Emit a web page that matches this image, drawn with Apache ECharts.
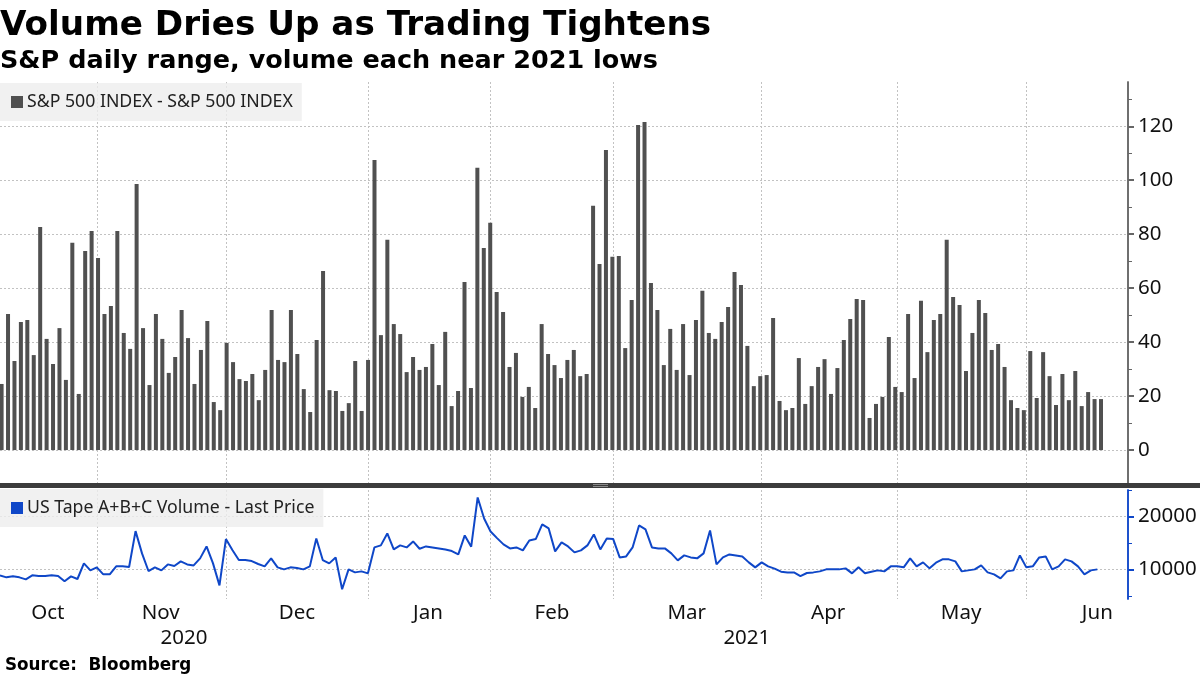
<!DOCTYPE html>
<html>
<head>
<meta charset="utf-8">
<script src="https://cdn.jsdelivr.net/npm/echarts@6/dist/echarts.min.js"></script>
<style>html,body{margin:0;padding:0;background:#fff}#main{width:1200px;height:675px}</style>
</head>
<body>
<div id="main"></div>
<script>
var range_values = [24.5,50.4,33,47.5,48.2,35.2,82.7,41.2,31.9,45.2,26,76.8,20.8,73.8,81.2,71.2,50.4,53.4,81.2,43.4,37.5,98.6,45.2,24.1,50.4,41.2,28.6,34.5,51.9,41.5,24.5,37.1,47.8,17.8,14.8,39.7,32.6,26.3,25.6,28.2,18.5,29.7,51.9,33.4,32.6,51.9,35.6,22.6,14.1,40.8,66.4,22.2,21.9,14.5,17.4,33,14.5,33.4,107.5,42.6,77.9,46.7,43,28.9,34.5,29.7,30.8,39.3,24.1,43.8,16.3,21.9,62.3,23,104.6,74.9,84.2,58.6,51.2,30.8,36,19.7,23.4,15.6,46.7,35.6,31.5,26.7,33.4,37.1,27.4,28.2,90.5,69,111.2,71.6,71.9,37.8,55.6,120.5,121.6,61.9,51.9,31.5,44.9,29.7,46.7,27.8,48.2,59,43.4,41.2,47.5,53,66,61.2,38.6,23.7,27.4,27.8,48.9,18.2,14.8,15.6,34.1,17.1,23.7,30.8,33.7,20.8,30.4,40.8,48.6,56,55.6,11.9,17.1,19.7,41.9,23.4,21.5,50.4,26.7,55.3,36.3,48.2,50.4,77.9,56.7,53.8,29.3,43.4,55.6,50.8,37.1,39.3,30.8,18.5,15.6,14.8,36.7,19.3,36.3,27.4,16.7,28.2,18.5,29.3,16.3,21.5,18.9,18.9];

var volume_values = [8870,8490,8680,8490,8110,8870,8740,8740,8870,8740,7740,8680,8180,11130,9810,10380,9060,9060,10570,10570,10440,17230,13020,9690,10380,9810,10940,10630,11510,10940,10750,12080,14340,11130,6980,15720,13650,11760,11760,11570,11010,10570,12080,10380,10000,10380,10250,10000,10570,15850,11760,11130,12260,6230,10000,9430,9620,9250,14150,14530,16790,13770,14530,14150,15280,13900,14340,14150,13960,13770,13460,12830,16420,14280,23590,19620,17170,15910,14720,13960,14150,13590,15470,15720,18490,17740,13400,15090,14340,13210,13590,14530,16600,13770,15850,15720,12260,12450,14150,18300,17550,14150,13960,13960,13020,11700,12640,12260,12080,13020,17360,10940,12260,12830,12640,12450,11320,10380,11320,10570,10130,9560,9430,9430,8740,9310,9430,9620,10000,10000,10000,10190,9250,10380,9250,9560,9810,9620,10570,10570,10380,12080,10570,11320,10190,11260,11890,11890,11510,9620,9810,10000,10750,9430,9060,8300,9620,9810,12640,10380,10570,12260,12450,10000,10570,11890,11510,10570,9060,9810,10000];

// first session of each month, counted in each panel's own sessions
var range_month_starts = [14.91,34.98,57.06,76.03,95.17,118.2,139.33,159.4];
var volume_month_starts = [15,35,57,76,95,118,139,159];

var month_names = ['Oct','Nov','Dec','Jan','Feb','Mar','Apr','May','Jun'];
var month_label_at = [7.4,24.9,46,66.3,85.5,106.4,128.3,148.9,170];
var year_names = ['2020','2021'];
var year_label_at = [28.5,115.7];

var range_ticks = [0,20,40,60,80,100,120];
var range_minor_ticks = [10,30,50,70,90,110,130];
var volume_ticks = [10000,20000];
var volume_minor_ticks = [5000,15000,25000];

var range_name = 'S&P 500 INDEX - S&P 500 INDEX';
var volume_name = 'US Tape A+B+C Volume - Last Price';

var head_font = 'DejaVu Sans';
var font = 'Noto Sans';
var grid_line = { show: true, lineStyle: { color: '#c2c2c2', type: [2, 2], width: 1 } };
var bar_color = '#505050';
var line_color = '#0f47c8';

function lookup(names, positions) {
	return function (val) {
		return names[positions.indexOf(val)] || '';
	};
}

function yAxis(grid, min, max, ticks, color, labels) {
	return {
		type: 'value', gridIndex: grid, position: 'right', min: min, max: max,
		axisLine: { show: true, onZero: false, lineStyle: { color: color, width: 1.5 } },
		axisTick: { show: true, length: labels ? 6 : 4, customValues: ticks, lineStyle: { color: color, width: labels ? 2 : 1 } },
		axisLabel: {
			show: labels, customValues: ticks, margin: 10, color: '#111', fontFamily: font, fontSize: 20.5,
			formatter: function (val) { return String(val); }
		},
		splitLine: labels ? grid_line : { show: false }
	};
}

function legend(name, top) {
	return {
		data: [{ name: name, icon: 'rect' }], left: 0, top: top, itemWidth: 12, itemHeight: 12, itemGap: 0,
		padding: [10, 9, 10, 11], backgroundColor: 'rgba(238,238,238,0.8)',
		textStyle: { fontFamily: font, fontSize: 17.7, color: '#222', padding: [0, 0, 0, -1] }
	};
}

var chart = echarts.init(document.getElementById('main'), null, { renderer: 'canvas' });
chart.setOption({
	animation: false,
	backgroundColor: '#fff',
	title: [
		{ text: 'Volume Dries Up as Trading Tightens', left: 0, top: 9, padding: 0, textStyle: { fontFamily: head_font, fontWeight: 'bold', fontSize: 34.2, color: '#000' } },
		{ text: 'S&P daily range, volume each near 2021 lows', left: 0, top: 48, padding: 0, textStyle: { fontFamily: head_font, fontWeight: 'bold', fontSize: 25.5, color: '#000' } },
		{ text: 'Source:  Bloomberg', left: 5, top: 657, padding: 0, textStyle: { fontFamily: head_font, fontWeight: 'bold', fontSize: 16.8, color: '#000' } }
	],
	legend: [legend(range_name, 83), legend(volume_name, 489)],
	grid: [
		{ left: 0, width: 1128, top: 82, height: 401, outerBoundsMode: 'none' },
		{ left: 0, width: 1128, top: 490, height: 109, outerBoundsMode: 'none' }
	],
	xAxis: [
		{
			type: 'value', gridIndex: 0, min: -0.249, max: 175.2,
			axisLine: { show: false },
			axisTick: { show: false, customValues: range_month_starts },
			axisLabel: { show: false },
			splitLine: grid_line
		},
		{
			type: 'value', gridIndex: 1, min: 0, max: 174.75,
			axisLine: { show: false },
			axisTick: { show: false, customValues: volume_month_starts },
			axisLabel: { show: true, customValues: month_label_at, formatter: lookup(month_names, month_label_at), margin: 4, color: '#111', fontFamily: font, fontSize: 20.5 },
			splitLine: grid_line
		},
		{
			type: 'value', gridIndex: 1, min: 0, max: 174.75, position: 'bottom', offset: 25,
			axisLine: { show: false },
			axisTick: { show: false },
			axisLabel: { show: true, customValues: year_label_at, formatter: lookup(year_names, year_label_at), margin: 4, color: '#111', fontFamily: font, fontSize: 20.5 },
			splitLine: { show: false }
		}
	],
	yAxis: [
		yAxis(0, -12.2, 136.4, range_ticks, '#666', true),
		yAxis(0, -12.2, 136.4, range_minor_ticks, '#666', false),
		yAxis(1, 4400, 25000, volume_ticks, line_color, true),
		yAxis(1, 4400, 25000, volume_minor_ticks, line_color, false)
	],
	series: [
		{
			name: range_name, type: 'bar', xAxisIndex: 0, yAxisIndex: 0, barWidth: 4,
			itemStyle: { color: bar_color },
			data: range_values.map(function (v, i) { return [i, v]; })
		},
		{
			name: volume_name, type: 'line', xAxisIndex: 1, yAxisIndex: 2, showSymbol: false,
			itemStyle: { color: line_color },
			lineStyle: { color: line_color, width: 2 },
			data: volume_values.map(function (v, i) { return [i, v]; })
		}
	],
	graphic: [
		{ type: 'rect', left: 0, top: 483, z: 10, shape: { width: 1200, height: 5 }, style: { fill: '#3c3c3c' } },
		{ type: 'rect', left: 593, top: 484, z: 11, shape: { width: 15, height: 1 }, style: { fill: '#8a8a8a' } },
		{ type: 'rect', left: 593, top: 486, z: 11, shape: { width: 15, height: 1 }, style: { fill: '#8a8a8a' } }
	]
});
</script>
</body>
</html>
